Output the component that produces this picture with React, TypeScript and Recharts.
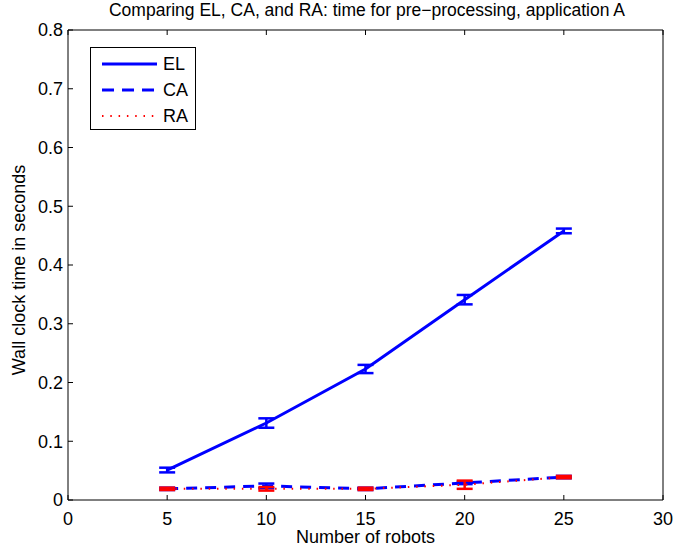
import React from "react";
import { ComposedChart, Line, XAxis, YAxis, ErrorBar } from "recharts";

const robots = [5, 10, 15, 20, 25];
const elTime = [0.051, 0.131, 0.223, 0.341, 0.458];
const elErr = [0.004, 0.008, 0.007, 0.008, 0.004];
const caTime = [0.019, 0.024, 0.019, 0.029, 0.039];
const caErr = [0.002, 0.004, 0.002, 0.002, 0.002];
const raTime = [0.019, 0.019, 0.019, 0.026, 0.039];
const raErr = [0.002, 0.003, 0.002, 0.007, 0.002];

const xTicks = [0, 5, 10, 15, 20, 25, 30];
const yTicks = [0, 0.1, 0.2, 0.3, 0.4, 0.5, 0.6, 0.7, 0.8];

const data = robots.map((r, i) => ({
  robots: r,
  el: elTime[i],
  elErr: elErr[i],
  ca: caTime[i],
  caErr: caErr[i],
  ra: raTime[i],
  raErr: raErr[i],
}));

const FONT = "'Liberation Sans', Arial, Helvetica, sans-serif";
const tickStyle = { fill: "#000", fontSize: 18, fontFamily: FONT };

const legendItems = [
  { name: "EL", color: "#0000ff", dash: undefined as string | undefined, width: 3 },
  { name: "CA", color: "#0000ff", dash: "12 8", width: 3 },
  { name: "RA", color: "#ff0000", dash: "1.5 6.8", width: 2 },
];

export default function App() {
  return (
    <div style={{ position: "absolute", left: 0, top: 0, width: 678, height: 552, background: "#fff", fontFamily: FONT }}>
      <div
        style={{
          position: "absolute",
          left: 68,
          width: 598,
          top: 1,
          lineHeight: "18px",
          textAlign: "center",
          fontSize: 17.5,
          color: "#000",
          whiteSpace: "nowrap",
        }}
      >
        Comparing EL, CA, and RA: time for pre−processing, application A
      </div>
      <ComposedChart
        width={678}
        height={552}
        data={data}
        margin={{ top: 29, right: 14, bottom: 22, left: 28 }}
      >
        <XAxis
          xAxisId="b"
          dataKey="robots"
          type="number"
          domain={[0, 30]}
          ticks={xTicks}
          allowDataOverflow
          height={30}
          stroke="#000"
          tickSize={-5}
          tickMargin={17}
          tick={tickStyle}
        />
        <XAxis
          xAxisId="t"
          orientation="top"
          dataKey="robots"
          type="number"
          domain={[0, 30]}
          ticks={xTicks}
          height={1}
          stroke="#000"
          tickSize={-5}
          tick={() => <g />}
        />
        <YAxis
          yAxisId="l"
          type="number"
          domain={[0, 0.8]}
          ticks={yTicks}
          width={40}
          stroke="#000"
          tickSize={-5}
          tickMargin={10}
          tick={tickStyle}
        />
        <YAxis
          yAxisId="r"
          orientation="right"
          type="number"
          domain={[0, 0.8]}
          ticks={yTicks}
          width={1}
          stroke="#000"
          tickSize={-5}
          tick={() => <g />}
        />
        <Line
          xAxisId="b"
          yAxisId="l"
          dataKey="el"
          stroke="#0000ff"
          strokeWidth={3}
          dot={false}
          isAnimationActive={false}
          type="linear"
        >
          <ErrorBar dataKey="elErr" width={8} stroke="#0000ff" strokeWidth={2.5} direction="y" isAnimationActive={false} />
        </Line>
        <Line
          xAxisId="b"
          yAxisId="l"
          dataKey="ca"
          stroke="#0000ff"
          strokeWidth={3}
          strokeDasharray="11 8"
          dot={false}
          isAnimationActive={false}
          type="linear"
        >
          <ErrorBar dataKey="caErr" width={8} stroke="#0000ff" strokeWidth={2.5} direction="y" isAnimationActive={false} />
        </Line>
        <Line
          xAxisId="b"
          yAxisId="l"
          dataKey="ra"
          stroke="#ff0000"
          strokeWidth={2}
          strokeDasharray="1.5 6.8"
          dot={false}
          isAnimationActive={false}
          type="linear"
        >
          <ErrorBar dataKey="raErr" width={8} stroke="#ff0000" strokeWidth={2.5} direction="y" isAnimationActive={false} />
        </Line>
      </ComposedChart>
      <div
        style={{
          position: "absolute",
          left: 90,
          top: 47,
          width: 106,
          height: 83,
          border: "1px solid #000",
          background: "#fff",
          boxSizing: "border-box",
        }}
      >
        {legendItems.map((it, i) => (
          <div key={it.name} style={{ position: "absolute", left: 0, top: 5 + i * 26, height: 22, width: 104 }}>
            <svg width={60} height={22} style={{ position: "absolute", left: 10, top: 0 }}>
              <line x1={1} y1={11} x2={56} y2={11} stroke={it.color} strokeWidth={it.width} strokeDasharray={it.dash} />
            </svg>
            <span style={{ position: "absolute", left: 72, top: 0, fontSize: 18, lineHeight: "22px", color: "#000" }}>{it.name}</span>
          </div>
        ))}
      </div>
      <div
        style={{
          position: "absolute",
          left: 68,
          width: 595,
          top: 527,
          textAlign: "center",
          fontSize: 18,
          color: "#000",
        }}
      >
        Number of robots
      </div>
      <div
        style={{
          position: "absolute",
          left: 19,
          top: 270,
          transform: "translate(-50%, -50%) rotate(-90deg)",
          fontSize: 18,
          color: "#000",
          whiteSpace: "nowrap",
        }}
      >
        Wall clock time in seconds
      </div>
    </div>
  );
}
